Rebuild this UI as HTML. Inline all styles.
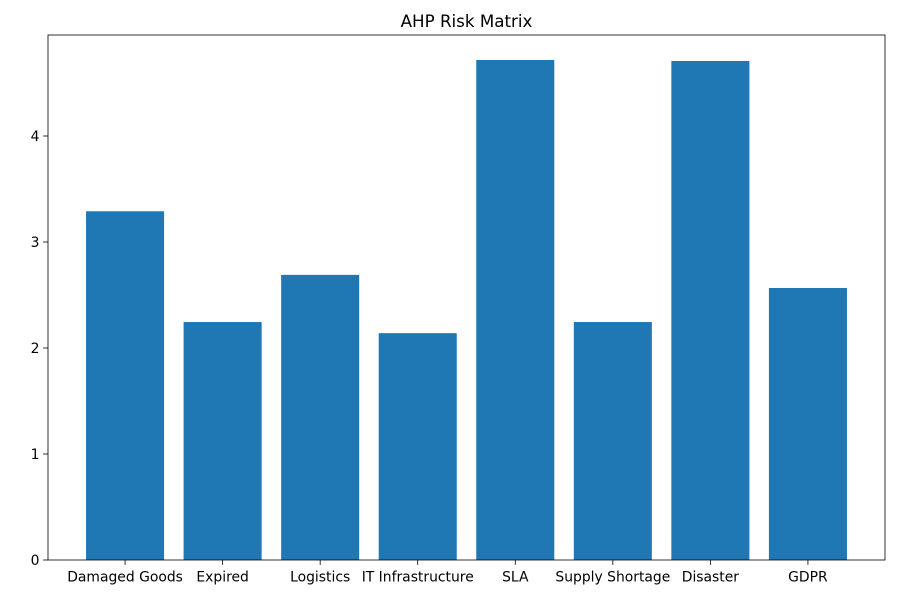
<!DOCTYPE html>
<html><head><meta charset="utf-8"><style>
body{margin:0;background:#fff;}
svg text{font-family:"DejaVu Sans","Liberation Sans",sans-serif;}
</style></head><body>
<svg id="chart" width="909" height="601" xmlns="http://www.w3.org/2000/svg">
<rect width="909" height="601" fill="#fff"/>
<text x="466.5" y="27" text-anchor="middle" font-size="16.7" fill="#000">AHP Risk Matrix</text>
<g id="bars"></g>
<g id="axes"></g>
</svg>
<script>
const categories = ["Damaged Goods","Expired","Logistics","IT Infrastructure","SLA","Supply Shortage","Disaster","GDPR"];
const values = [3.29,2.245,2.69,2.14,4.717,2.245,4.708,2.566];
const yTicks = [0,1,2,3,4];

const L=48,R=885,T=35,B=560;
const yMax = Math.max(...values)*1.05;
const xMin=-0.4-0.05*(categories.length-1+0.8), xMax=categories.length-1+0.4+0.05*(categories.length-1+0.8);
const xs=v=>L+(v-xMin)/(xMax-xMin)*(R-L);
const ys=v=>B-v/yMax*(B-T);
const NS="http://www.w3.org/2000/svg";
const bars=document.getElementById('bars'), axes=document.getElementById('axes');
function mk(tag,attrs,parent){const e=document.createElementNS(NS,tag);for(const k in attrs)e.setAttribute(k,attrs[k]);parent.appendChild(e);return e;}
values.forEach((v,i)=>{
  const r=mk('rect',{x:xs(i-0.4),y:ys(v),width:xs(i+0.4)-xs(i-0.4),height:ys(0)-ys(v),fill:'#1f77b4'},bars);
  
  
  mk('line',{x1:xs(i),x2:xs(i),y1:B,y2:B+4.9,stroke:'#000','stroke-width':0.8},axes);
  const lb=mk('text',{x:xs(i),y:B+21.5,'text-anchor':'middle','font-size':'13.9',fill:'#000'},axes);
  lb.textContent=categories[i];
  
  
});
yTicks.forEach(v=>{
  mk('line',{x1:L-4.9,x2:L,y1:ys(v),y2:ys(v),stroke:'#000','stroke-width':0.8},axes);
  const lb=mk('text',{x:L-8.5,y:ys(v)+5,'text-anchor':'end','font-size':'13.9',fill:'#000'},axes);
  lb.textContent=v;
  
  
});
const frame=mk('rect',{x:L,y:T,width:R-L,height:B-T,fill:'none',stroke:'#000','stroke-width':0.8},axes);


</script>
</body></html>
